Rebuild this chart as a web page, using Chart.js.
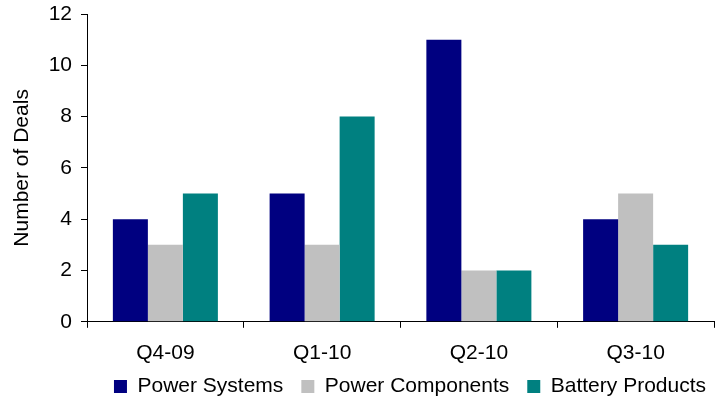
<!DOCTYPE html>
<html>
<head>
<meta charset="utf-8">
<script src="https://cdn.jsdelivr.net/npm/chart.js@4"></script>
<style>
  html, body { margin: 0; padding: 0; background: #fff; }
  #wrap { width: 720px; height: 400px; }
</style>
</head>
<body>
<div id="wrap"><canvas id="chartDeals" width="720" height="400"></canvas></div>
<script>
// data
const quarters = ["Q4-09", "Q1-10", "Q2-10", "Q3-10"];
const powerSystems = [4, 5, 11, 4];
const powerComponents = [3, 3, 2, 5];
const batteryProducts = [5, 8, 2, 3];
const yTicks = [0, 2, 4, 6, 8, 10, 12];

const font = { family: "'Liberation Sans', Arial, sans-serif", size: 21 };

// legend sits close under the axis labels, like the original
const legendNudge = {
    id: "legendNudge",
    afterLayout(chart) {
        const lg = chart.legend;
        lg.top = 358;
        lg.bottom = chart.height;
        lg.right += 10;
    }
};

new Chart(document.getElementById("chartDeals"), {
    type: "bar",
    data: {
        labels: quarters,
        datasets: [
            { label: "Power Systems", data: powerSystems, backgroundColor: "#000080" },
            { label: "Power Components", data: powerComponents, backgroundColor: "#C0C0C0" },
            { label: "Battery Products", data: batteryProducts, backgroundColor: "#008080" }
        ]
    },
    plugins: [legendNudge],
    options: {
        responsive: false,
        animation: false,
        devicePixelRatio: 1,
        datasets: {
            bar: { categoryPercentage: 0.67, barPercentage: 1.0 }
        },
        layout: { padding: { top: 14, right: 6, left: 0, bottom: 0 } },
        plugins: {
            legend: {
                position: "bottom",
                align: "end",
                maxHeight: 21,
                labels: {
                    color: "#000",
                    font: font,
                    boxWidth: 13,
                    boxHeight: 13,
                    padding: 18
                }
            },
            tooltip: { enabled: false }
        },
        scales: {
            x: {
                grid: { offset: true, drawOnChartArea: false, tickLength: 6, color: "#000" },
                border: { color: "#000" },
                ticks: { color: "#000", font: font, padding: 13 }
            },
            y: {
                min: 0,
                max: 12,
                afterBuildTicks: (axis) => { axis.ticks = yTicks.map(v => ({ value: v })); },
                afterFit: (axis) => { axis.width = 87; axis.paddingTop = 0; axis.paddingBottom = 0; },
                grid: { drawOnChartArea: false, tickLength: 6, color: "#000" },
                border: { color: "#000" },
                ticks: { color: "#000", font: font, padding: 9 },
                title: { display: true, text: "Number of Deals", color: "#000", font: font, padding: { top: 10, bottom: 0 } }
            }
        }
    }
});
</script>
</body>
</html>
